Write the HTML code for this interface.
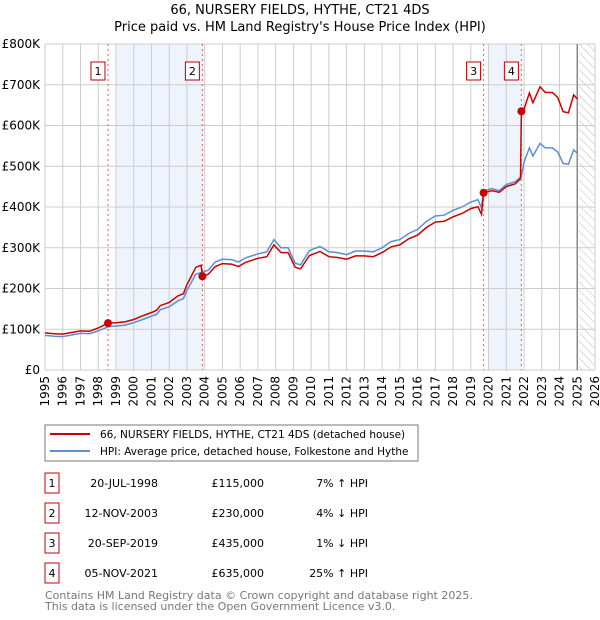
<!DOCTYPE html>
<html><head><meta charset="utf-8"><style>
body{margin:0;background:#fff;font-family:"Liberation Sans","DejaVu Sans",sans-serif}
svg{display:block}
</style></head><body>
<svg id="c" width="600" height="620" xmlns="http://www.w3.org/2000/svg" font-family="DejaVu Sans, Liberation Sans, sans-serif">
<defs><pattern id="hatch" width="6" height="6" patternUnits="userSpaceOnUse" patternTransform="rotate(-45)"><line x1="0" y1="0" x2="0" y2="6" stroke="#bbb" stroke-width="1"/></pattern></defs>
<text x="300" y="14" text-anchor="middle" font-size="13">66, NURSERY FIELDS, HYTHE, CT21 4DS</text>
<text x="300" y="31" text-anchor="middle" font-size="13">Price paid vs. HM Land Registry's House Price Index (HPI)</text>
<g id="grid"></g><g id="marks"></g>
<rect x="45" y="425" width="373" height="36" fill="#fff" stroke="#777"/>
<line x1="50" y1="434" x2="90" y2="434" stroke="#cc0000" stroke-width="2"/>
<text x="100" y="438" font-size="10.5">66, NURSERY FIELDS, HYTHE, CT21 4DS (detached house)</text>
<line x1="50" y1="451" x2="90" y2="451" stroke="#5b8fd0" stroke-width="2"/>
<text x="100" y="455" font-size="10.5">HPI: Average price, detached house, Folkestone and Hythe</text>
<g id="table" font-size="11"></g>
<text x="45" y="599" font-size="11" fill="#777">Contains HM Land Registry data © Crown copyright and database right 2025.</text>
<text x="45" y="610" font-size="11" fill="#777">This data is licensed under the Open Government Licence v3.0.</text>
</svg>
<script>
const hpiDates=[1995.0,1995.5,1996.0,1996.5,1997.0,1997.5,1998.0,1998.55,1999.0,1999.5,2000.0,2000.5,2001.0,2001.3,2001.5,2002.0,2002.5,2002.8,2003.0,2003.5,2003.87,2004.2,2004.6,2005.0,2005.5,2005.9,2006.3,2007.0,2007.5,2007.9,2008.3,2008.7,2009.1,2009.4,2009.9,2010.5,2011.0,2011.5,2012.0,2012.5,2013.0,2013.5,2014.0,2014.5,2015.0,2015.5,2016.0,2016.5,2017.0,2017.5,2018.0,2018.5,2019.0,2019.4,2019.6,2019.72,2020.2,2020.6,2021.0,2021.5,2021.85,2022.0,2022.3,2022.5,2022.9,2023.2,2023.6,2023.9,2024.2,2024.5,2024.8,2025.0];
const hpiValues=[85,83,82,86,90,89,96,106,108,110,116,124,132,137,148,155,170,175,195,235,240,245,265,272,271,265,275,285,290,320,300,300,262,258,293,303,290,288,283,292,292,290,300,315,320,335,345,365,378,380,392,400,412,418,398,440,445,440,455,462,475,510,545,525,556,545,545,535,507,505,540,532];
const priceDates=[1995.0,1995.5,1996.0,1996.5,1997.0,1997.5,1998.0,1998.55,1999.0,1999.5,2000.0,2000.5,2001.0,2001.3,2001.5,2002.0,2002.5,2002.8,2003.0,2003.5,2003.8,2003.87,2004.2,2004.6,2005.0,2005.5,2005.9,2006.3,2007.0,2007.5,2007.9,2008.3,2008.7,2009.1,2009.4,2009.9,2010.5,2011.0,2011.5,2012.0,2012.5,2013.0,2013.5,2014.0,2014.5,2015.0,2015.5,2016.0,2016.5,2017.0,2017.5,2018.0,2018.5,2019.0,2019.4,2019.6,2019.72,2020.2,2020.6,2021.0,2021.5,2021.8,2021.85,2022.0,2022.3,2022.5,2022.9,2023.2,2023.6,2023.9,2024.2,2024.5,2024.8,2025.0];
const priceValues=[91,89,88,92,96,95,103,115,116,118,124,133,141,147,158,166,182,187,209,252,257,230,235,254,261,260,254,264,274,278,307,288,288,252,248,281,291,278,276,272,280,280,278,288,302,307,322,331,350,363,365,376,384,396,401,382,435,440,436,450,457,470,635,640,680,656,695,681,681,669,634,631,675,665];
const saleDates=[1998.55,2003.87,2019.72,2021.85];
const salePrices=[115,230,435,635];
const saleLabels=["1","2","3","4"];
const saleDateText=["20-JUL-1998","12-NOV-2003","20-SEP-2019","05-NOV-2021"];
const salePriceText=["£115,000","£230,000","£435,000","£635,000"];
const salePctText=["7% ↑ HPI","4% ↓ HPI","1% ↓ HPI","25% ↑ HPI"];
const shadeStart=[1999.0,2020.0];
const shadeEnd=[2003.87,2021.85];
const yTicks=[0,100,200,300,400,500,600,700,800];
const yTickLabels=["£0","£100K","£200K","£300K","£400K","£500K","£600K","£700K","£800K"];
const years=[1995,1996,1997,1998,1999,2000,2001,2002,2003,2004,2005,2006,2007,2008,2009,2010,2011,2012,2013,2014,2015,2016,2017,2018,2019,2020,2021,2022,2023,2024,2025,2026];

const NS="http://www.w3.org/2000/svg";
const X0=45,X1=595,Y0=370,Y1=44;
const x=d=>X0+(d-1995)/(2026-1995)*(X1-X0);
const y=v=>Y0-v/800*(Y0-Y1);
function mk(tag,attrs,parent){const e=document.createElementNS(NS,tag);for(const k in attrs)e.setAttribute(k,attrs[k]);parent.appendChild(e);return e;}
const grid=document.getElementById('grid'),marks=document.getElementById('marks'),tbl=document.getElementById('table');
shadeStart.forEach((s,i)=>{const r=mk('rect',{x:x(s),y:Y1,width:x(shadeEnd[i])-x(s),height:Y0-Y1,fill:'#eef3fc'},grid);

});
const hr=mk('rect',{x:x(2025.1),y:Y1,width:X1-x(2025.1),height:Y0-Y1,fill:'url(#hatch)'},grid);


years.forEach(yr=>{const l=mk('line',{x1:x(yr),x2:x(yr),y1:Y1,y2:Y0,stroke:'#ccc'},grid);


const t=mk('text',{x:0,y:0,'font-size':12,'text-anchor':'end',transform:`translate(${x(yr)+4},${Y0+6}) rotate(-90)`},grid);t.textContent=yr;

});
yTicks.forEach((v,i)=>{const l=mk('line',{x1:X0,x2:X1,y1:y(v),y2:y(v),stroke:'#ccc'},grid);


const t=mk('text',{x:X0-5,y:y(v)+4,'font-size':12,'text-anchor':'end'},grid);t.textContent=yTickLabels[i];

});
const nl=mk('line',{x1:x(2025.0),x2:x(2025.0),y1:Y1,y2:Y0,stroke:'#888','stroke-width':1.5},grid);


saleDates.forEach((d,i)=>{const l=mk('line',{x1:x(d),x2:x(d),y1:Y1,y2:Y0,stroke:'#e06060','stroke-dasharray':'2,3'},grid);


const b=mk('rect',{x:x(d)-17,y:62,width:14,height:18,fill:'#fff',stroke:'#b00'},grid);


const t=mk('text',{x:x(d)-10,y:75,'font-size':11,'text-anchor':'middle'},grid);t.textContent=saleLabels[i];

});
const hp=mk('path',{d:hpiDates.map((d,i)=>(i?'L':'M')+x(d).toFixed(1)+','+y(hpiValues[i]).toFixed(1)).join(''),fill:'none',stroke:'#5b8fd0','stroke-width':1.5},marks);


const pp=mk('path',{d:priceDates.map((d,i)=>(i?'L':'M')+x(d).toFixed(1)+','+y(priceValues[i]).toFixed(1)).join(''),fill:'none',stroke:'#cc0000','stroke-width':1.5},marks);


saleDates.forEach((d,i)=>{const c=mk('circle',{cx:x(d),cy:y(salePrices[i]),r:4,fill:'#cc0000'},marks);


const ry=483+i*30;
const b=mk('rect',{x:45,y:ry-10,width:14,height:20,fill:'#fff',stroke:'#cc0000'},tbl);


const cols=[[52,'middle',saleLabels[i]],[158,'end',saleDateText[i]],[264,'end',salePriceText[i]],[368,'end',salePctText[i]]];
const names=['table-index','table-date','table-price','table-hpi-diff'];
cols.forEach((c2,j)=>{const t=mk('text',{x:c2[0],y:ry+4,'text-anchor':c2[1]},tbl);t.textContent=c2[2];

});});
</script>
</body></html>
